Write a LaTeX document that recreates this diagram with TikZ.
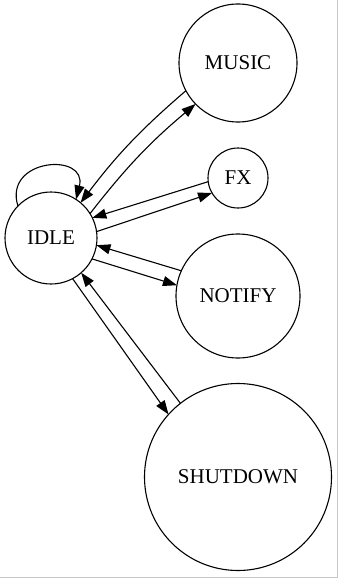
\documentclass[tikz,border=0pt]{standalone}
\usepackage{fontspec}
\setmainfont{Liberation Serif}
\usetikzlibrary{arrows.meta}
\begin{document}
\begin{tikzpicture}[x=1pt,y=1pt,
  state/.style={draw, circle, line width=1.1pt, inner sep=0pt, outer sep=0pt,
                font=\fontsize{21}{25}\selectfont},
  edge/.style={line width=1.1pt, -{Triangle[length=14pt,width=10pt]}},
  frame/.style={draw=black!22, line width=1pt}]
  \useasboundingbox (0,0) rectangle (338,-578);
  % thin frame on the right and bottom
  \draw[frame] (337,0) -- (337,-577) -- (0,-577);

  % states
  \node[state, minimum size=92pt]  (idle)     at (51,-238)  {IDLE};
  \node[state, minimum size=118pt] (music)    at (238,-63)  {MUSIC};
  \node[state, minimum size=60pt]  (fx)       at (238,-178) {FX};
  \node[state, minimum size=124pt] (notify)   at (238,-296) {NOTIFY};
  \node[state, minimum size=187pt] (shutdown) at (238,-477) {SHUTDOWN};

  % self loop on IDLE
  \draw[edge] (idle.136) .. controls (3,-158) and (88,-152) .. (idle.57);

  % transitions
  \draw[edge] (idle.32)    to[bend left=6]  (music.224);
  \draw[edge] (music.208)  to[bend right=6] (idle.50);
  \draw[edge] (idle.8)     -- (fx.210);
  \draw[edge] (fx.187)     -- (idle.26);
  \draw[edge] (idle.-27)   -- (notify.170);
  \draw[edge] (notify.156) -- (idle.-9);
  \draw[edge] (idle.-62)   -- (shutdown.138);
  \draw[edge] (shutdown.128) -- (idle.-49);
\end{tikzpicture}
\end{document}
